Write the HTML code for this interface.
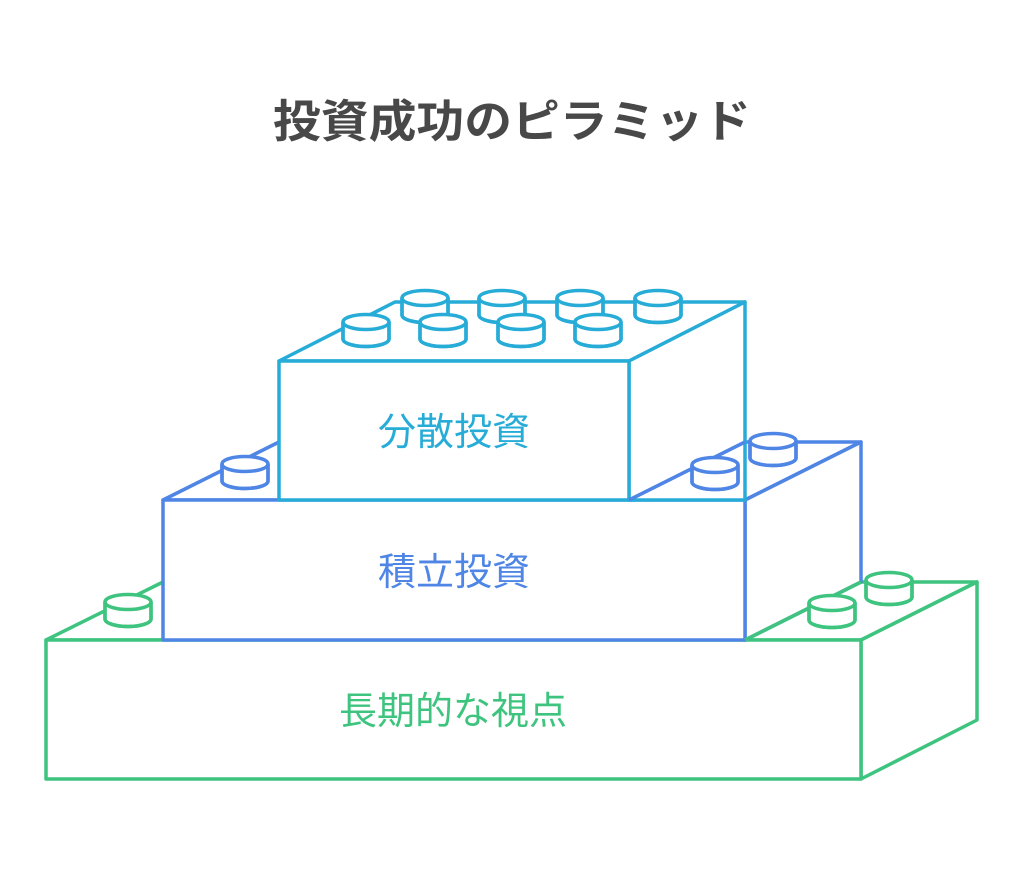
<!DOCTYPE html>
<html><head><meta charset="utf-8"><style>
html,body{margin:0;padding:0;background:#fff;}
svg{display:block;}
</style></head><body>
<svg width="1024" height="873" viewBox="0 0 1024 873" xmlns="http://www.w3.org/2000/svg">
<defs>
<g id="stud">
<path d="M-23,0 L-23,17 A23,7.5 0 0 0 23,17 L23,0" fill="#fff"/>
<ellipse cx="0" cy="0" rx="23" ry="7.5" fill="#fff"/>
<path d="M-23,0 L-23,17 A23,7.5 0 0 0 23,17 L23,0" fill="none"/>
</g>
</defs>
<text x="512" y="137" text-anchor="middle" font-family="'Liberation Sans','Noto Sans CJK JP',sans-serif" font-weight="bold" font-size="45" fill="#484848" textLength="478" lengthAdjust="spacingAndGlyphs">投資成功のピラミッド</text>

<!-- green block -->
<g stroke="#3ec47f" stroke-width="3.5" stroke-linejoin="round" fill="#fff">
<polygon points="46,640 163,582 977,582 861,640"/>
<polygon points="861,640 977,582 977,720 861,779"/>
<rect x="46" y="640" width="815" height="139"/>
</g>

<!-- blue block -->
<g stroke="#4f86e6" stroke-width="3.5" stroke-linejoin="round" fill="#fff">
<polygon points="163,500 279,442 861,442 745,500"/>
<polygon points="745,500 861,442 861,582 745,640"/>
<rect x="163" y="500" width="582" height="140"/>
</g>
<g stroke="#3ec47f" stroke-width="3.5" fill="#fff">
<line x1="745" y1="640" x2="861" y2="582"/>
<use href="#stud" x="128" y="602"/>
<use href="#stud" x="889" y="580"/>
<use href="#stud" x="832" y="603"/>
</g>

<!-- cyan block -->
<g stroke="#27acd8" stroke-width="3.5" stroke-linejoin="round" fill="#fff">
<polygon points="279,361 395,302 745,302 629,361"/>
<polygon points="629,361 745,302 745,500 629,500"/>
<rect x="279" y="361" width="350" height="139"/>
</g>
<g stroke="#4f86e6" stroke-width="3.5" fill="#fff">
<line x1="629" y1="500" x2="745" y2="442"/>
<use href="#stud" x="245" y="464"/>
<use href="#stud" x="773" y="441"/>
<use href="#stud" x="715" y="465"/>
</g>
<g stroke="#27acd8" stroke-width="3.5" fill="#fff">
<use href="#stud" x="425" y="298"/>
<use href="#stud" x="502" y="298"/>
<use href="#stud" x="580" y="298"/>
<use href="#stud" x="658" y="298"/>
<use href="#stud" x="366" y="322"/>
<use href="#stud" x="443" y="322"/>
<use href="#stud" x="521" y="322"/>
<use href="#stud" x="598" y="322"/>
</g>

<g font-family="'Liberation Sans','Noto Sans CJK JP',sans-serif" font-size="38" text-anchor="middle">
<text x="454" y="445" fill="#27acd8">分散投資</text>
<text x="454" y="585" fill="#4f86e6">積立投資</text>
<text x="453" y="724" fill="#3ec47f">長期的な視点</text>
</g>
</svg>
</body></html>
